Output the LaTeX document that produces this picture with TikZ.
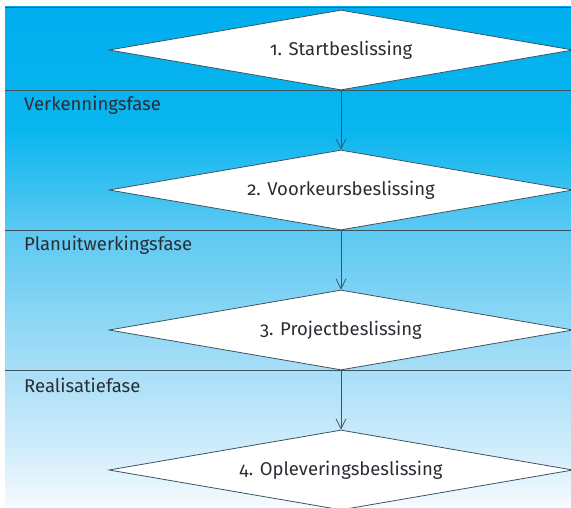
\documentclass[tikz,border=0pt]{standalone}
\usepackage{fontspec}
\setmainfont[Numbers=OldStyle]{Fira Sans}
\usetikzlibrary{shapes.geometric,arrows.meta}

\definecolor{bgA}{RGB}{0,174,239}
\definecolor{bgB}{RGB}{10,182,239}
\definecolor{bgC}{RGB}{92,201,242}
\definecolor{bgD}{RGB}{168,222,247}
\definecolor{bgE}{RGB}{208,237,251}
\definecolor{bgF}{RGB}{246,251,254}
\definecolor{rule}{RGB}{58,84,96}
\definecolor{ink}{RGB}{42,46,52}

% stops between 25bp and 75bp span the shaded rectangle
\pgfdeclareverticalshading{phasebg}{100bp}{%
  color(0bp)=(bgF); color(25bp)=(bgF); color(30.8bp)=(bgE);
  color(38.75bp)=(bgD); color(52.75bp)=(bgC); color(62.7bp)=(bgB);
  color(75bp)=(bgA); color(100bp)=(bgA)}

\tikzset{
  decision/.style={diamond, draw=rule, fill=white, line width=0.8pt,
    inner sep=0pt, aspect=5.8, minimum width=464pt, minimum height=80pt,
    text=ink, font=\fontsize{18.5}{20}\selectfont},
  phase/.style={anchor=west, text=ink, inner sep=0pt,
    font=\fontsize{18.5}{20}\selectfont},
  separator/.style={draw=rule, line width=0.8pt},
  flow/.style={draw=rule, line width=0.8pt,
    -{Straight Barb[length=10pt,width=10pt,line width=0.8pt]}}
}

\begin{document}
\begin{tikzpicture}[x=1pt,y=-1pt]
  \useasboundingbox (0,0) rectangle (571,508);
  % graded background of the phase bands
  \shade[shading=phasebg] (5,7) rectangle (571,508);
  \draw[separator] (5,7) -- (571,7);

  % phase separators
  \draw[separator] (5,90) -- (571,90);
  \draw[separator] (5,230) -- (571,230);
  \draw[separator] (5,370) -- (571,370);

  % phase names
  \node[phase] (p1) at (24,105) {Verkenningsfase};
  \node[phase] (p2) at (24,245) {Planuitwerkingsfase};
  \node[phase] (p3) at (24,385) {Realisatiefase};

  % decision moments
  \node[decision] (d1) at (341,50) {1. Startbeslissing};
  \node[decision] (d2) at (341,190) {2. Voorkeursbeslissing};
  \node[decision] (d3) at (341,330) {3. Projectbeslissing};
  \node[decision] (d4) at (341,470) {4. Opleveringsbeslissing};

  % flow between decisions
  \draw[flow] (d1.south) -- (d2.north);
  \draw[flow] (d2.south) -- (d3.north);
  \draw[flow] (d3.south) -- (d4.north);
\end{tikzpicture}
\end{document}
